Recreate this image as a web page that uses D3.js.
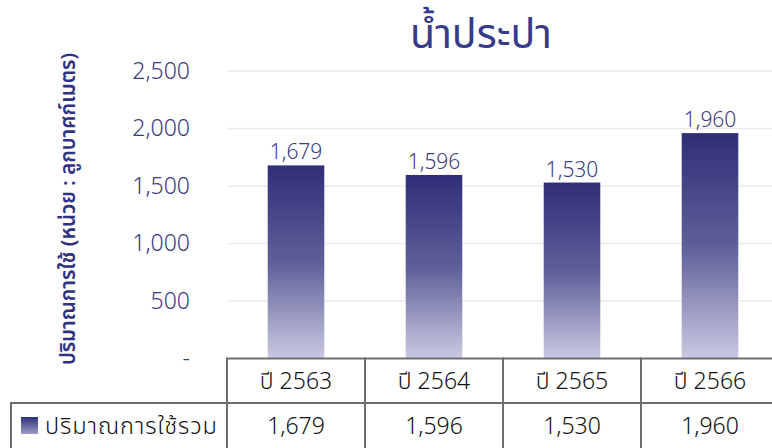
<!DOCTYPE html>
<html><head><meta charset="utf-8">
<script src="https://cdn.jsdelivr.net/npm/d3@7"></script>
<style>html,body{margin:0;padding:0;background:#fff;}svg{display:block;}</style>
</head><body>
<svg id="c" width="772" height="448"></svg>
<script>
const categories = ["ปี 2563", "ปี 2564", "ปี 2565", "ปี 2566"];
const values = [1679, 1596, 1530, 1960];
const yTicks = [0, 500, 1000, 1500, 2000, 2500];
const seriesName = "ปริมาณการใช้รวม";
const title = "น้ำประปา";
const yLabel = "ปริมาณการใช้ (หน่วย : ลูกบาศก์เมตร)";

(function () {
const FONT = "'Noto Sans Thai','Noto Sans','DejaVu Sans',sans-serif";
const W = 300;
const svg = d3.select("#c").style("font-family", FONT);
const plotLeft = 227, colW = 138, plotTop = 71, zeroY = 358.5;
const x = d3.scaleBand().domain(categories).range([plotLeft, plotLeft + colW * categories.length]).paddingInner(0.59).paddingOuter(0.295);
const y = d3.scaleLinear().domain([0, 2500]).range([zeroY, plotTop]);
const fmt = d3.format(",");

const defs = svg.append("defs");
const g = defs.append("linearGradient").attr("id", "bg").attr("x1", 0).attr("y1", 0).attr("x2", 0).attr("y2", 1);
g.append("stop").attr("offset", "0%").attr("stop-color", "#2e2f78");
g.append("stop").attr("offset", "50%").attr("stop-color", "#5e5f99");
g.append("stop").attr("offset", "100%").attr("stop-color", "#c9c9e2");
const lg = defs.append("linearGradient").attr("id", "lg").attr("x1", 0).attr("y1", 0).attr("x2", 0).attr("y2", 1);
lg.append("stop").attr("offset", "0%").attr("stop-color", "#2e2f78");
lg.append("stop").attr("offset", "100%").attr("stop-color", "#9c9cc8");

// gridlines
svg.append("g").selectAll("line").data(yTicks.filter(d => d > 0)).join("line")
  .attr("x1", plotLeft).attr("x2", 772).attr("y1", d => y(d)).attr("y2", d => y(d))
  .attr("stroke", "#ebebeb").attr("stroke-width", 1.5);

// y axis
const ya = svg.append("g").attr("transform", "translate(190,0)")
  .call(d3.axisLeft(y).tickValues(yTicks).tickSize(0).tickPadding(0).tickFormat(d => d === 0 ? "-" : fmt(d)));
ya.select(".domain").remove();
ya.selectAll("text").attr("font-family", FONT).attr("font-size", 23).attr("font-weight", W)
  .attr("fill", "#3b3c82").attr("dy", "0.32em");

// y label
svg.append("text").attr("transform", "translate(68,209) rotate(-90)")
  .attr("text-anchor", "middle").attr("dominant-baseline", "central")
  .attr("font-size", 20.5).attr("font-weight", 600).attr("fill", "#2f3280").text(yLabel);

// title
svg.append("text").attr("x", 481).attr("y", 48).attr("text-anchor", "middle")
  .attr("font-size", 41).attr("font-weight", 400).attr("fill", "#363a8a").text(title);

// bars
svg.append("g").selectAll("rect").data(values).join("rect")
  .attr("x", (d, i) => x(categories[i])).attr("width", x.bandwidth())
  .attr("y", d => y(d)).attr("height", d => zeroY - y(d)).attr("fill", "url(#bg)");

// value labels
svg.append("g").selectAll("text").data(values).join("text")
  .attr("x", (d, i) => x(categories[i]) + x.bandwidth() / 2).attr("y", d => y(d) - 6)
  .attr("text-anchor", "middle").attr("font-size", 21).attr("font-weight", W)
  .attr("fill", "#3b3c82").text(d => fmt(d));

// table
const tbl = svg.append("g");
const r0 = 358.5, r1 = 403, r2 = 452;
const stroke = "#6e6e6e";
const colX = categories.map((c, i) => plotLeft + colW * i);
categories.forEach((c, i) => {
  tbl.append("rect").attr("x", colX[i]).attr("y", r0).attr("width", colW).attr("height", r1 - r0)
    .attr("fill", "none").attr("stroke", stroke).attr("stroke-width", 2);
  tbl.append("rect").attr("x", colX[i]).attr("y", r1).attr("width", colW).attr("height", r2 - r1)
    .attr("fill", "none").attr("stroke", stroke).attr("stroke-width", 2);
  tbl.append("text").attr("x", colX[i] + colW / 2).attr("y", (r0 + r1) / 2).attr("dy", "0.35em")
    .attr("text-anchor", "middle").attr("font-size", 23).attr("font-weight", W).attr("fill", "#111").text(c);
  tbl.append("text").attr("x", colX[i] + colW / 2).attr("y", (r1 + r2 - 4) / 2).attr("dy", "0.35em")
    .attr("text-anchor", "middle").attr("font-size", 23).attr("font-weight", W).attr("fill", "#111").text(fmt(values[i]));
});
tbl.append("rect").attr("x", 11).attr("y", r1).attr("width", plotLeft - 11).attr("height", r2 - r1)
  .attr("fill", "none").attr("stroke", stroke).attr("stroke-width", 2);
tbl.append("rect").attr("x", 21).attr("y", 417).attr("width", 17).attr("height", 17).attr("fill", "url(#lg)");
tbl.append("text").attr("x", 45).attr("y", 425.5).attr("dy", "0.35em")
  .attr("font-size", 23.5).attr("font-weight", W).attr("letter-spacing", 0.9)
  .attr("fill", "#111").text(seriesName);
})();
</script>
</body></html>
